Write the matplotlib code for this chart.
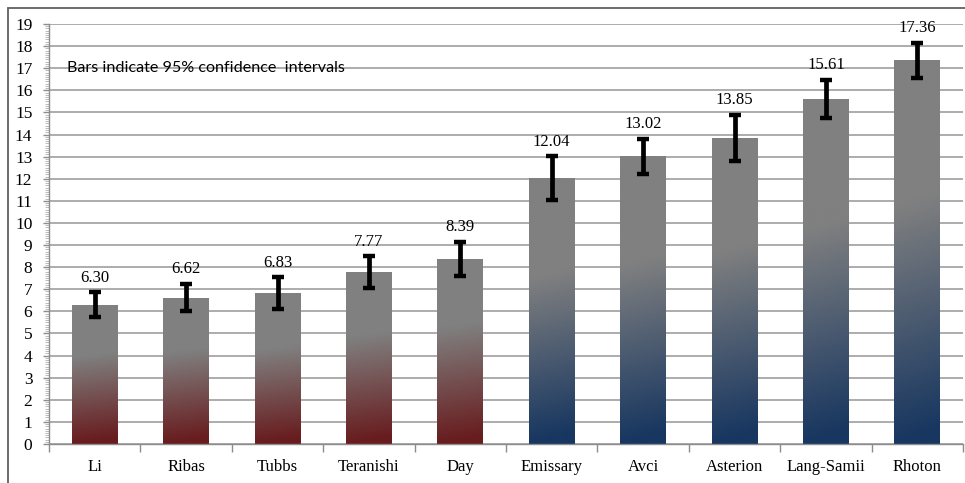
import matplotlib
matplotlib.use("Agg")
import matplotlib.pyplot as plt
import numpy as np
from matplotlib.patches import Rectangle
from matplotlib.ticker import MultipleLocator, FixedLocator

categories = ["Li", "Ribas", "Tubbs", "Teranishi", "Day",
              "Emissary", "Avci", "Asterion", "Lang-Samii", "Rhoton"]
values = [6.30, 6.62, 6.83, 7.77, 8.39, 12.04, 13.02, 13.85, 15.61, 17.36]
ci_half = [0.57, 0.62, 0.72, 0.72, 0.77, 0.98, 0.80, 1.05, 0.87, 0.79]
groups = ["red"] * 5 + ["blue"] * 5
y_ticks = list(range(0, 20))
note = "Bars indicate 95% confidence  intervals"

plt.rcParams["font.family"] = ["Liberation Serif", "DejaVu Serif"]

bottom_colors = {"red": np.array([0x68, 0x1c, 0x1e]) / 255.0,
                 "blue": np.array([0x17, 0x36, 0x60]) / 255.0}
gray = np.array([0x80, 0x80, 0x80]) / 255.0

fig = plt.figure(figsize=(9.65, 4.83), dpi=100)
ax = fig.add_axes([49 / 965, 1 - 444 / 483, (963 - 49) / 965, (444 - 24) / 483])

x = np.arange(len(categories))
width = 0.5

bars = ax.bar(x, values, width=width, color="none", edgecolor="none", zorder=2)

# gradient fills
ny, nx = 200, 20
t = np.linspace(0, 1, ny)[:, None]          # 0 bottom -> 1 top
h = np.linspace(0, 1, nx)[None, :]          # 0 left -> 1 right
for b, g in zip(bars, groups):
    f = np.clip((t - 0.02) / 0.62 - 0.06 * h + 0.03, 0, 1)
    img = (1 - f)[..., None] * bottom_colors[g] + f[..., None] * gray
    x0, y0 = b.get_x(), b.get_y()
    im = ax.imshow(img, origin="lower", aspect="auto",
                   extent=[x0, x0 + b.get_width(), y0, y0 + b.get_height()],
                   zorder=2, interpolation="bilinear")
    im.set_clip_path(b)

ax.set_xlim(-0.5, len(categories) - 0.5)
ax.set_ylim(0, 19)

ax.errorbar(x, values, yerr=ci_half, fmt="none", ecolor="black",
            elinewidth=3.4, capsize=4.2, capthick=3.2, zorder=4)

for xi, v, e in zip(x, values, ci_half):
    ax.annotate(f"{v:.2f}", (xi, v + e), xytext=(0, 10.5),
                textcoords="offset points", ha="center", va="center",
                fontsize=12, zorder=5)

# grid
ax.set_yticks(y_ticks)
ax.set_yticklabels([str(v) for v in y_ticks], fontsize=12.5,
                   family=["Liberation Serif", "DejaVu Serif"])
ax.yaxis.set_minor_locator(MultipleLocator(0.1))
ax.grid(axis="y", which="major", color="#a6a6a6", lw=1.3, zorder=0)
ax.set_axisbelow(True)

ax.set_xticks(x)
ax.set_xticklabels(categories, fontsize=12)
ax.xaxis.set_minor_locator(FixedLocator(np.arange(-0.5, len(categories) + 0.5, 1)))
ax.tick_params(axis="x", which="major", length=0, pad=11)
ax.tick_params(axis="x", which="minor", length=6, color="#8c8c8c", width=1, direction="out")
ax.tick_params(axis="y", which="major", length=4, color="#8c8c8c", width=1, pad=8)
ax.tick_params(axis="y", which="minor", length=3, color="#a0a0a0", width=0.5)

for s in ["top", "right"]:
    ax.spines[s].set_visible(False)
ax.spines["left"].set_color("#8c8c8c")
ax.spines["bottom"].set_color("#8c8c8c")
ax.spines["left"].set_linewidth(1)
ax.spines["bottom"].set_linewidth(1)

ax.text(0.02, 17.0, note, transform=ax.get_yaxis_transform(),
        ha="left", va="center", fontsize=11.6, family=["Lato", "DejaVu Sans"], zorder=5)

# outer frame
fig.patches.append(Rectangle((8 / 965, -0.05), 1.1, 1 - 8 / 483 + 0.05,
                             transform=fig.transFigure, fill=False,
                             edgecolor="#606060", lw=1.3))

fig.savefig("out.png", dpi=100)
